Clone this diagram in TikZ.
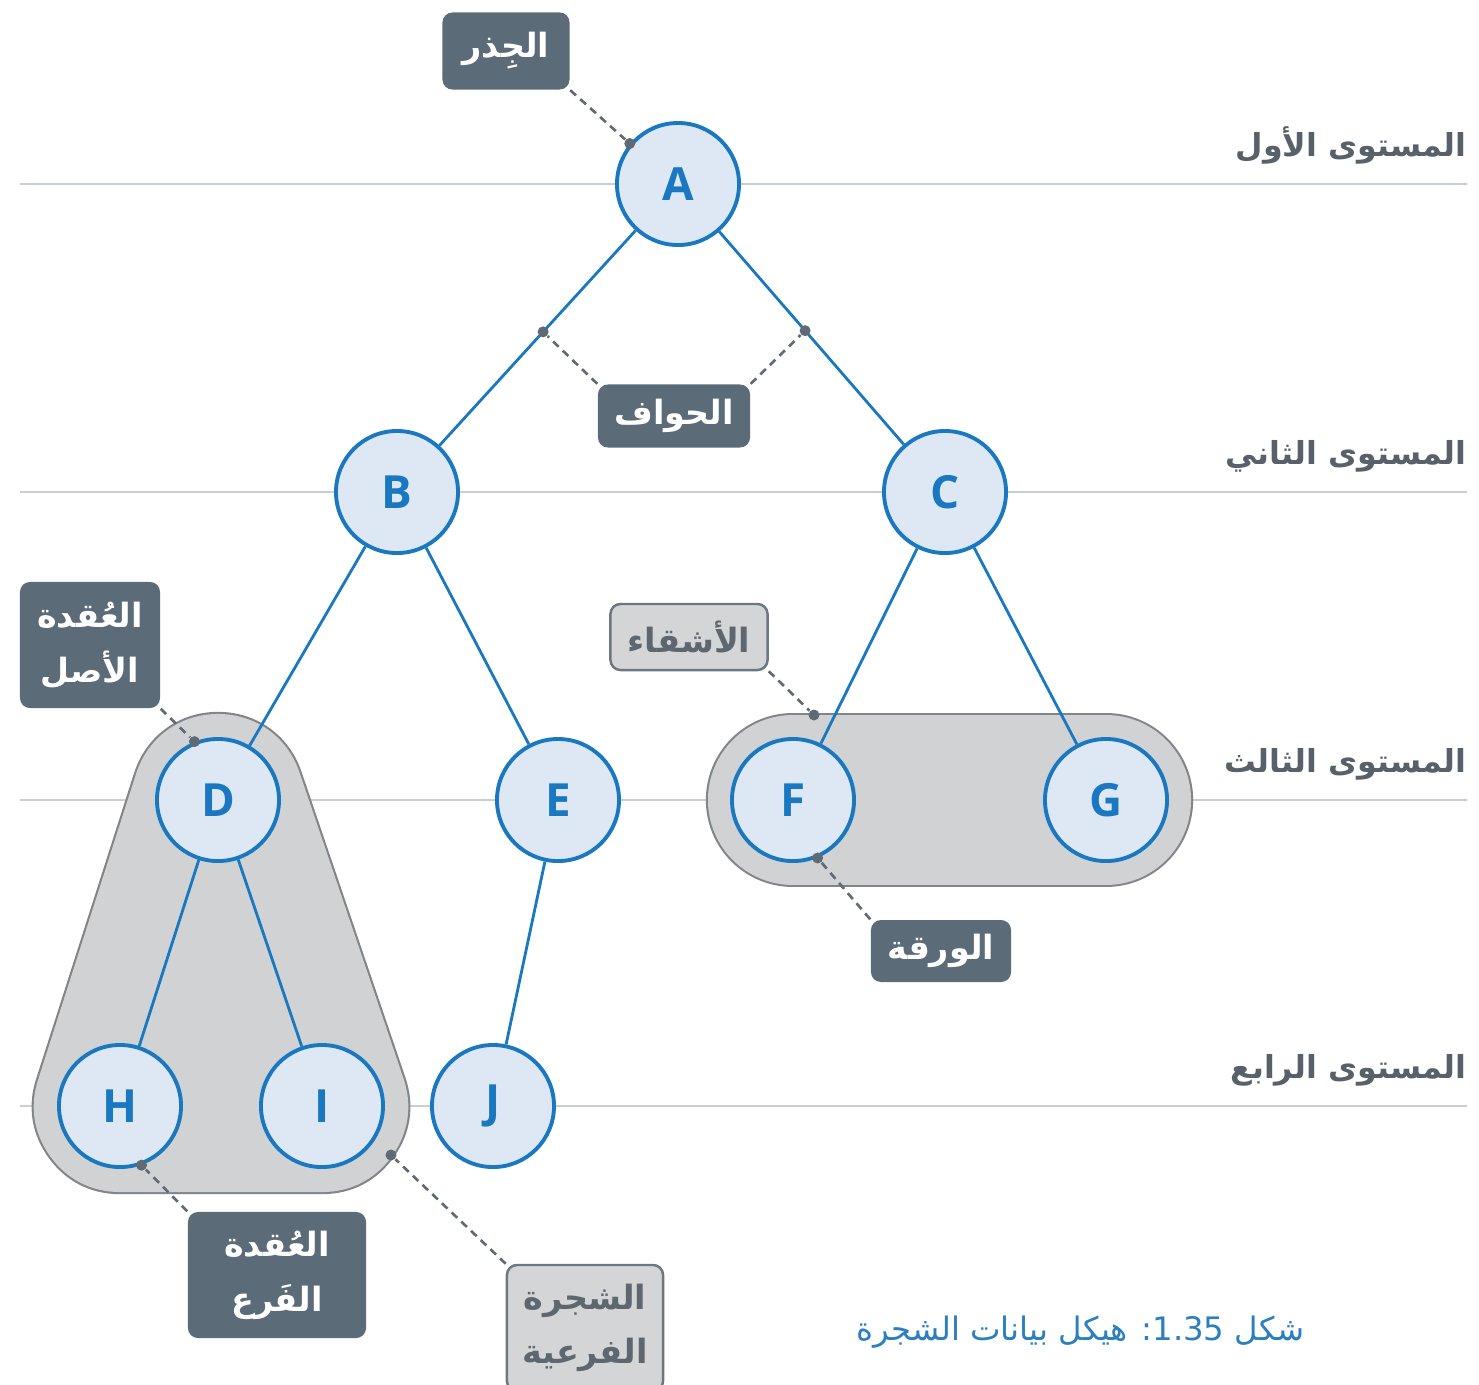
\documentclass[tikz,border=0pt]{standalone}
\usepackage{fontspec}
\setmainfont{Open Sans}
\newfontfamily\arabicfont[Script=Arabic]{DejaVu Sans}
\TeXXeTstate=1
\usepackage{tikz}
\usetikzlibrary{calc,positioning,backgrounds}
\definecolor{nodeblue}{HTML}{1A78C0}
\definecolor{nodefill}{HTML}{DEE8F4}
\definecolor{levelgray}{HTML}{C9CED3}
\definecolor{labelgray}{HTML}{58616A}
\definecolor{hullfill}{HTML}{D0D2D4}
\definecolor{hullborder}{HTML}{808589}
\definecolor{notedark}{HTML}{5B6B78}
\definecolor{notelight}{HTML}{D3D5D7}
\definecolor{noteborder}{HTML}{6C7780}
\definecolor{notetext}{HTML}{5E666E}
\definecolor{dotgray}{HTML}{5F6A74}
\definecolor{captionblue}{HTML}{2B7FC1}
\newcommand{\artext}[1]{{\arabicfont\beginR #1\endR}}

\begin{document}
\begin{tikzpicture}[x=0.01cm,y=-0.01cm]
  \tikzset{
    treenode/.style={circle, draw=nodeblue, line width=1.1pt, fill=nodefill, minimum size=1.22cm, inner sep=0pt, text=nodeblue, font=\fontsize{13}{15}\selectfont\bfseries},
    treeedge/.style={draw=nodeblue, line width=0.8pt},
    levelline/.style={draw=levelgray, line width=0.7pt},
    levellabel/.style={anchor=base east, inner sep=0pt, text=labelgray, font=\fontsize{9}{11}\selectfont\bfseries},
    darknote/.style={fill=notedark, text=white, rounded corners=1mm, align=center, inner sep=0pt, font=\fontsize{9.5}{15.5}\selectfont\bfseries},
    lightnote/.style={darknote, fill=notelight, draw=noteborder, line width=0.7pt, text=notetext},
    pointer/.style={draw=dotgray, line width=0.75pt, dash pattern=on 2.2pt off 1.6pt},
    dot/.style={circle, fill=dotgray, inner sep=0pt, minimum size=0.11cm}
  }
  \useasboundingbox (0,0) rectangle (1479,1384);
  % tree nodes
  \node[treenode] (A) at (678,184) {A};
  \node[treenode] (B) at (397,492) {B};
  \node[treenode] (C) at (945,492) {C};
  \node[treenode] (D) at (218,800) {D};
  \node[treenode] (E) at (558,800) {E};
  \node[treenode] (F) at (793,800) {F};
  \node[treenode] (G) at (1106,800) {G};
  \node[treenode] (H) at (120,1106) {H};
  \node[treenode] (I) at (322,1106) {I};
  \node[treenode] (J) at (493,1106) {J};
  \foreach \p/\c in {A/B,A/C,B/D,B/E,C/F,C/G,D/H,D/I,E/J}
    \draw[treeedge] (\p) -- (\c);
  % levels and subtree shapes behind the tree
  \begin{scope}[on background layer]
    \foreach \y/\lvl in {184/الأول,492/الثاني,800/الثالث,1106/الرابع}{
      \draw[levelline] (20,\y) -- (1467,\y);
      \node[levellabel] at (1467,\y-28) {\artext{المستوى \lvl}};
    }
    \draw[hullborder, fill=hullborder, line width=1.72cm+1.2pt, line join=round] (D.center) -- (H.center) -- (I.center) -- cycle;
    \draw[hullfill, fill=hullfill, line width=1.72cm, line join=round] (D.center) -- (H.center) -- (I.center) -- cycle;
    \draw[hullborder, line width=1.7cm+1.2pt, line cap=round] (F.center) -- (G.center);
    \draw[hullfill, line width=1.7cm, line cap=round] (F.center) -- (G.center);
  \end{scope}
  % callouts
  \node[darknote, minimum width=1.27cm, minimum height=0.77cm] (rootnote) at (506,51) {\artext{الجِذر}};
  \node[darknote, minimum width=1.52cm, minimum height=0.63cm] (edgenote) at (674,416) {\artext{الحواف}};
  \node[darknote, minimum width=1.40cm, minimum height=1.26cm] (parentnote) at (90,645) {\artext{العُقدة}\\\artext{الأصل}};
  \node[lightnote, minimum width=1.57cm, minimum height=0.66cm] (siblingnote) at (689,637) {\artext{الأشقاء}};
  \node[darknote, minimum width=1.40cm, minimum height=0.62cm] (leafnote) at (941,951) {\artext{الورقة}};
  \node[darknote, minimum width=1.78cm, minimum height=1.26cm] (childnote) at (277,1275) {\artext{العُقدة}\\\artext{الفَرع}};
  \node[lightnote, minimum width=1.56cm, minimum height=1.26cm] (subtreenote) at (585,1328) {\artext{الشجرة}\\\artext{الفرعية}};
  % pointer dots
  \node[dot] (rootdot) at (A.140) {};
  \node[dot] (abdot) at ($(A)!0.48!(B)$) {};
  \node[dot] (acdot) at ($(A)!0.476!(C)$) {};
  \node[dot] (parentdot) at (D.112) {};
  \node[dot] (siblingdot) at (814,715) {};
  \node[dot] (leafdot) at (F.-67) {};
  \node[dot] (childdot) at (H.-70) {};
  \node[dot] (subtreedot) at (391,1155) {};
  \draw[pointer] (rootnote.south east) -- (rootdot);
  \draw[pointer] (edgenote.north west) -- (abdot);
  \draw[pointer] (edgenote.north east) -- (acdot);
  \draw[pointer] (parentnote.south east) -- (parentdot);
  \draw[pointer] (siblingnote.south east) -- (siblingdot);
  \draw[pointer] (leafnote.north west) -- (leafdot);
  \draw[pointer] (childnote.north west) -- (childdot);
  \draw[pointer] (subtreenote.north west) -- (subtreedot);
  % caption
  \node[anchor=base east, inner sep=0pt, text=captionblue, font=\fontsize{9.2}{11}\selectfont] (caption) at (1305,1340) {\artext{شكل \beginL 1.35\endL: هيكل بيانات الشجرة}};
\end{tikzpicture}
\end{document}
